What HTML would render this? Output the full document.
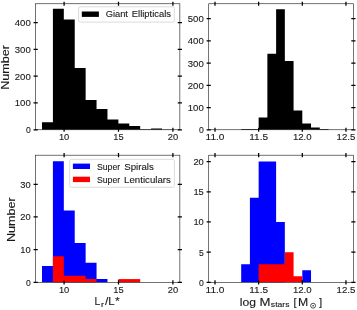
<!DOCTYPE html>
<html><head><meta charset="utf-8"><title>Histograms</title>
<style>html,body{margin:0;padding:0;background:#fff;}body{width:357px;height:310px;overflow:hidden;font-family:"Liberation Sans", sans-serif;}svg{display:block;filter:blur(0.42px);}text{stroke:#1a1a1a;stroke-width:0.12px;}</style>
</head><body>
<svg width="357" height="310" viewBox="0 0 357 310" font-family='"Liberation Sans", sans-serif' fill="#1a1a1a">
<path d="M42.00 129.75L42.00 122.24L52.91 122.24L52.91 8.84L63.82 8.84L63.82 19.56L74.73 19.56L74.73 68.09L85.64 68.09L85.64 99.99L96.55 99.99L96.55 109.11L107.46 109.11L107.46 119.56L118.37 119.56L118.37 123.58L129.28 123.58L129.28 126.00L140.19 126.00L140.19 129.21L151.10 129.21L151.10 128.41L162.01 128.41L162.01 129.48L172.92 129.48L172.92 129.75Z" fill="#000"/>
<path d="M241.19 129.75L241.19 129.08L258.65 129.08L258.65 117.51L267.38 117.51L267.38 53.66L276.11 53.66L276.11 9.16L284.84 9.16L284.84 61.00L293.57 61.00L293.57 110.39L302.30 110.39L302.30 123.52L311.03 123.52L311.03 127.53L319.76 127.53L319.76 129.08L328.49 129.08L328.49 129.75Z" fill="#000"/>
<path d="M42.00 282.35L42.00 266.00L52.91 266.00L52.91 161.36L63.82 161.36L63.82 210.41L74.73 210.41L74.73 243.11L85.64 243.11L85.64 262.73L96.55 262.73L96.55 279.08L107.46 279.08L107.46 282.35L118.37 282.35L118.37 282.35L129.28 282.35L129.28 282.35L140.19 282.35L140.19 282.35L151.10 282.35L151.10 282.35L162.01 282.35L162.01 282.35L172.92 282.35L172.92 282.35Z" fill="#0000ff"/>
<path d="M52.91 282.35L52.91 256.19L63.82 256.19L63.82 275.81L85.64 275.81L85.64 279.08L96.55 279.08L96.55 282.35Z" fill="#ff0000"/>
<path d="M118.37 282.35L118.37 279.08L140.19 279.08L140.19 282.35Z" fill="#ff0000"/>
<path d="M241.19 282.35L241.19 264.23L249.92 264.23L249.92 197.79L258.65 197.79L258.65 161.55L276.11 161.55L276.11 221.95L284.84 221.95L284.84 282.35L293.57 282.35L293.57 282.35L302.30 282.35L302.30 270.27L311.03 270.27L311.03 282.35Z" fill="#0000ff"/>
<path d="M258.65 282.35L258.65 264.23L284.84 264.23L284.84 252.15L293.57 252.15L293.57 276.31L302.30 276.31L302.30 282.35Z" fill="#ff0000"/>
<rect x="35.65" y="3.75" width="144.20" height="126.00" fill="none" stroke="#262626" stroke-width="0.65"/>
<path d="M64.10 1.65V5.85M64.10 127.65V131.85M118.50 1.65V5.85M118.50 127.65V131.85M172.90 1.65V5.85M172.90 127.65V131.85M33.55 129.75H37.75M177.75 129.75H181.95M33.55 102.94H37.75M177.75 102.94H181.95M33.55 76.13H37.75M177.75 76.13H181.95M33.55 49.32H37.75M177.75 49.32H181.95M33.55 22.51H37.75M177.75 22.51H181.95" stroke="#000" stroke-width="1.25" fill="none"/>
<rect x="208.7" y="3.75" width="144.70" height="126.00" fill="none" stroke="#262626" stroke-width="0.65"/>
<path d="M215.00 1.65V5.85M215.00 127.65V131.85M258.65 1.65V5.85M258.65 127.65V131.85M302.30 1.65V5.85M302.30 127.65V131.85M345.95 1.65V5.85M345.95 127.65V131.85M206.60 129.75H210.80M351.30 129.75H355.50M206.60 107.50H210.80M351.30 107.50H355.50M206.60 85.25H210.80M351.30 85.25H355.50M206.60 63.00H210.80M351.30 63.00H355.50M206.60 40.75H210.80M351.30 40.75H355.50M206.60 18.50H210.80M351.30 18.50H355.50" stroke="#000" stroke-width="1.25" fill="none"/>
<rect x="35.65" y="155.2" width="144.20" height="127.15" fill="none" stroke="#262626" stroke-width="0.65"/>
<path d="M64.10 153.10V157.30M64.10 280.25V284.45M118.50 153.10V157.30M118.50 280.25V284.45M172.90 153.10V157.30M172.90 280.25V284.45M33.55 282.35H37.75M177.75 282.35H181.95M33.55 249.65H37.75M177.75 249.65H181.95M33.55 216.95H37.75M177.75 216.95H181.95M33.55 184.25H37.75M177.75 184.25H181.95" stroke="#000" stroke-width="1.25" fill="none"/>
<rect x="208.7" y="155.2" width="144.70" height="127.15" fill="none" stroke="#262626" stroke-width="0.65"/>
<path d="M215.00 153.10V157.30M215.00 280.25V284.45M258.65 153.10V157.30M258.65 280.25V284.45M302.30 153.10V157.30M302.30 280.25V284.45M345.95 153.10V157.30M345.95 280.25V284.45M206.60 282.35H210.80M351.30 282.35H355.50M206.60 252.15H210.80M351.30 252.15H355.50M206.60 221.95H210.80M351.30 221.95H355.50M206.60 191.75H210.80M351.30 191.75H355.50M206.60 161.55H210.80M351.30 161.55H355.50" stroke="#000" stroke-width="1.25" fill="none"/>
<text x="64.10" y="140.35" font-size="9.6" text-anchor="middle" textLength="10.39" lengthAdjust="spacingAndGlyphs">10</text>
<text x="64.10" y="292.95" font-size="9.6" text-anchor="middle" textLength="10.39" lengthAdjust="spacingAndGlyphs">10</text>
<text x="118.50" y="140.35" font-size="9.6" text-anchor="middle" textLength="10.39" lengthAdjust="spacingAndGlyphs">15</text>
<text x="118.50" y="292.95" font-size="9.6" text-anchor="middle" textLength="10.39" lengthAdjust="spacingAndGlyphs">15</text>
<text x="172.90" y="140.35" font-size="9.6" text-anchor="middle" textLength="10.39" lengthAdjust="spacingAndGlyphs">20</text>
<text x="172.90" y="292.95" font-size="9.6" text-anchor="middle" textLength="10.39" lengthAdjust="spacingAndGlyphs">20</text>
<text x="215.00" y="140.35" font-size="9.6" text-anchor="middle" textLength="18.79" lengthAdjust="spacingAndGlyphs">11.0</text>
<text x="215.00" y="292.95" font-size="9.6" text-anchor="middle" textLength="18.79" lengthAdjust="spacingAndGlyphs">11.0</text>
<text x="258.65" y="140.35" font-size="9.6" text-anchor="middle" textLength="18.79" lengthAdjust="spacingAndGlyphs">11.5</text>
<text x="258.65" y="292.95" font-size="9.6" text-anchor="middle" textLength="18.79" lengthAdjust="spacingAndGlyphs">11.5</text>
<text x="302.30" y="140.35" font-size="9.6" text-anchor="middle" textLength="18.79" lengthAdjust="spacingAndGlyphs">12.0</text>
<text x="302.30" y="292.95" font-size="9.6" text-anchor="middle" textLength="18.79" lengthAdjust="spacingAndGlyphs">12.0</text>
<text x="345.95" y="140.35" font-size="9.6" text-anchor="middle" textLength="18.79" lengthAdjust="spacingAndGlyphs">12.5</text>
<text x="345.95" y="292.95" font-size="9.6" text-anchor="middle" textLength="18.79" lengthAdjust="spacingAndGlyphs">12.5</text>
<text x="30.75" y="133.25" font-size="9.6" text-anchor="end" textLength="4.80" lengthAdjust="spacingAndGlyphs">0</text>
<text x="30.75" y="106.44" font-size="9.6" text-anchor="end" textLength="15.99" lengthAdjust="spacingAndGlyphs">100</text>
<text x="30.75" y="79.63" font-size="9.6" text-anchor="end" textLength="15.99" lengthAdjust="spacingAndGlyphs">200</text>
<text x="30.75" y="52.82" font-size="9.6" text-anchor="end" textLength="15.99" lengthAdjust="spacingAndGlyphs">300</text>
<text x="30.75" y="26.01" font-size="9.6" text-anchor="end" textLength="15.99" lengthAdjust="spacingAndGlyphs">400</text>
<text x="203.80" y="133.25" font-size="9.6" text-anchor="end" textLength="4.80" lengthAdjust="spacingAndGlyphs">0</text>
<text x="203.80" y="111.00" font-size="9.6" text-anchor="end" textLength="15.99" lengthAdjust="spacingAndGlyphs">100</text>
<text x="203.80" y="88.75" font-size="9.6" text-anchor="end" textLength="15.99" lengthAdjust="spacingAndGlyphs">200</text>
<text x="203.80" y="66.50" font-size="9.6" text-anchor="end" textLength="15.99" lengthAdjust="spacingAndGlyphs">300</text>
<text x="203.80" y="44.25" font-size="9.6" text-anchor="end" textLength="15.99" lengthAdjust="spacingAndGlyphs">400</text>
<text x="203.80" y="22.00" font-size="9.6" text-anchor="end" textLength="15.99" lengthAdjust="spacingAndGlyphs">500</text>
<text x="30.75" y="285.85" font-size="9.6" text-anchor="end" textLength="4.80" lengthAdjust="spacingAndGlyphs">0</text>
<text x="30.75" y="253.15" font-size="9.6" text-anchor="end" textLength="10.39" lengthAdjust="spacingAndGlyphs">10</text>
<text x="30.75" y="220.45" font-size="9.6" text-anchor="end" textLength="10.39" lengthAdjust="spacingAndGlyphs">20</text>
<text x="30.75" y="187.75" font-size="9.6" text-anchor="end" textLength="10.39" lengthAdjust="spacingAndGlyphs">30</text>
<text x="203.80" y="285.85" font-size="9.6" text-anchor="end" textLength="4.80" lengthAdjust="spacingAndGlyphs">0</text>
<text x="203.80" y="255.65" font-size="9.6" text-anchor="end" textLength="4.80" lengthAdjust="spacingAndGlyphs">5</text>
<text x="203.80" y="225.45" font-size="9.6" text-anchor="end" textLength="10.39" lengthAdjust="spacingAndGlyphs">10</text>
<text x="203.80" y="195.25" font-size="9.6" text-anchor="end" textLength="10.39" lengthAdjust="spacingAndGlyphs">15</text>
<text x="203.80" y="165.05" font-size="9.6" text-anchor="end" textLength="10.39" lengthAdjust="spacingAndGlyphs">20</text>
<text transform="translate(9.25 67.0) rotate(-90)" x="-22.83" y="0.00" font-size="10.2" textLength="44.84" lengthAdjust="spacingAndGlyphs">Number</text>
<text transform="translate(15.25 219.2) rotate(-90)" x="-22.83" y="0.00" font-size="10.2" textLength="44.84" lengthAdjust="spacingAndGlyphs">Number</text>
<text x="94.54" y="305.30" font-size="10.4" textLength="5.80" lengthAdjust="spacingAndGlyphs">L</text>
<text x="100.99" y="306.90" font-size="7.5" textLength="3.06" lengthAdjust="spacingAndGlyphs">r</text>
<text x="104.90" y="305.30" font-size="10.4" textLength="3.40" lengthAdjust="spacingAndGlyphs">/</text>
<text x="108.37" y="305.30" font-size="10.4" textLength="6.31" lengthAdjust="spacingAndGlyphs">L</text>
<text x="115.01" y="305.30" font-size="10.4" textLength="4.68" lengthAdjust="spacingAndGlyphs">*</text>
<text x="239.78" y="305.80" font-size="10.4" textLength="16.20" lengthAdjust="spacingAndGlyphs">log</text>
<text x="259.42" y="305.80" font-size="10.4" textLength="10.96" lengthAdjust="spacingAndGlyphs">M</text>
<text x="270.86" y="307.40" font-size="7.5" textLength="18.65" lengthAdjust="spacingAndGlyphs">stars</text>
<text x="293.51" y="305.80" font-size="10.4" textLength="3.08" lengthAdjust="spacingAndGlyphs">[</text>
<text x="298.09" y="305.80" font-size="10.4" textLength="10.21" lengthAdjust="spacingAndGlyphs">M</text>
<circle cx="313.1" cy="305.7" r="2.45" fill="none" stroke="#1a1a1a" stroke-width="0.75"/><circle cx="313.1" cy="305.7" r="0.75" fill="#1a1a1a"/>
<text x="318.91" y="305.80" font-size="10.4" textLength="3.22" lengthAdjust="spacingAndGlyphs">]</text>
<rect x="78.6" y="6.8" width="95.8" height="15.3" rx="1.7" fill="#fff" fill-opacity="0.8" stroke="#ccc" stroke-width="0.7"/>
<rect x="81.8" y="11.5" width="17.1" height="5.4" fill="#000"/>
<text x="105.73" y="17.20" font-size="9.3" textLength="22.24" lengthAdjust="spacingAndGlyphs">Giant</text>
<text x="131.83" y="17.20" font-size="9.3" textLength="39.11" lengthAdjust="spacingAndGlyphs">Ellipticals</text>
<rect x="69.7" y="159.3" width="104.7" height="28.0" rx="1.7" fill="#fff" fill-opacity="0.8" stroke="#ccc" stroke-width="0.7"/>
<rect x="72.9" y="163.6" width="17.1" height="5.4" fill="#0000ff"/>
<text x="97.01" y="169.60" font-size="9.3" textLength="23.14" lengthAdjust="spacingAndGlyphs">Super</text>
<text x="124.26" y="169.60" font-size="9.3" textLength="29.59" lengthAdjust="spacingAndGlyphs">Spirals</text>
<rect x="72.9" y="176.7" width="17.1" height="5.4" fill="#ff0000"/>
<text x="97.01" y="182.50" font-size="9.3" textLength="23.14" lengthAdjust="spacingAndGlyphs">Super</text>
<text x="124.11" y="182.50" font-size="9.3" textLength="46.74" lengthAdjust="spacingAndGlyphs">Lenticulars</text>
</svg>
</body></html>
